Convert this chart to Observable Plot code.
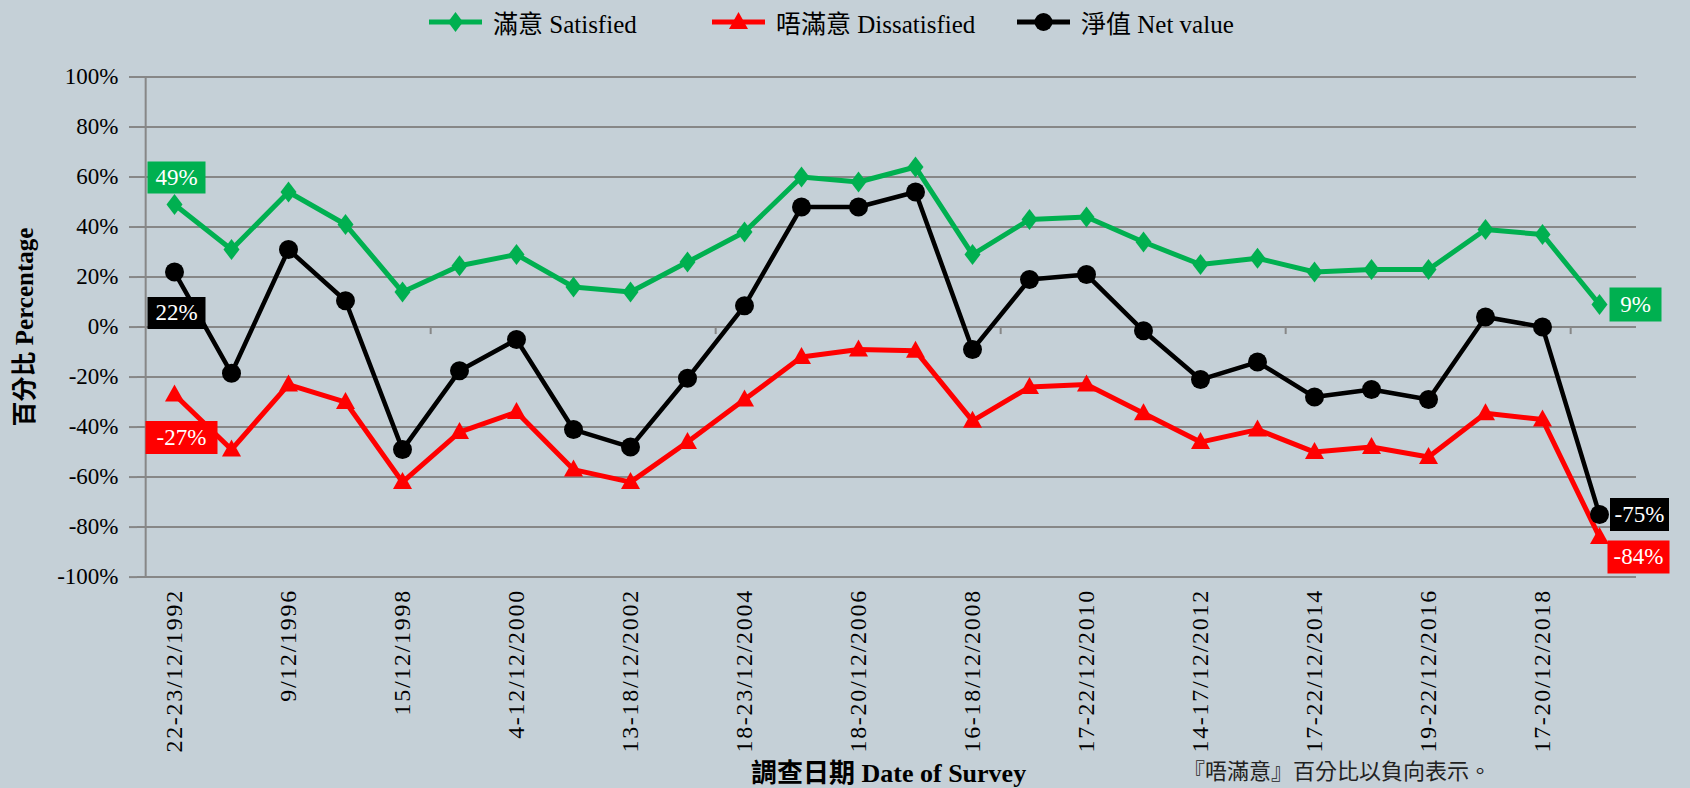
<!DOCTYPE html>
<html><head><meta charset="utf-8">
<script src="https://cdn.jsdelivr.net/npm/d3@7"></script>
<script src="https://cdn.jsdelivr.net/npm/@observablehq/plot@0.6"></script>
<style>
html,body{margin:0;padding:0;background:#C5D0D7;width:1690px;height:788px;overflow:hidden;font-family:"Liberation Serif","Noto Sans CJK TC",serif;color:#000;}
#legend{position:relative;height:43px;}
.item{position:absolute;top:0;height:43px;display:flex;align-items:center;font-size:25px;white-space:nowrap;}
.item svg{margin-right:11px;}
#chart{height:712px;}
#bottom{position:relative;height:33px;}
#xtitle{position:absolute;left:751px;top:6px;font-weight:bold;font-size:26px;line-height:26px;white-space:nowrap;}
#note{position:absolute;left:1183px;top:6px;font-size:22px;line-height:22px;white-space:nowrap;color:#222;}
g[aria-label="x-axis tick label"] text{letter-spacing:1.7px;}
</style></head><body>
<div id="legend"></div>
<div id="chart"></div>
<div id="bottom"><div id="xtitle">調查日期 Date of Survey</div><div id="note">『唔滿意』百分比以負向表示。</div></div>
<script>
const dates = ["22-23/12/1992","12/1994","9/12/1996","12/1997","15/12/1998","12/1999","4-12/12/2000","12/2001","13-18/12/2002","12/2003","18-23/12/2004","12/2005","18-20/12/2006","12/2007","16-18/12/2008","12/2009","17-22/12/2010","12/2011","14-17/12/2012","12/2013","17-22/12/2014","12/2015","19-22/12/2016","12/2017","17-20/12/2018","12/2019"];
const tickLabels = ["22-23/12/1992","9/12/1996","15/12/1998","4-12/12/2000","13-18/12/2002","18-23/12/2004","18-20/12/2006","16-18/12/2008","17-22/12/2010","14-17/12/2012","17-22/12/2014","19-22/12/2016","17-20/12/2018"];
const satisfied = [49,31,54,41,14,24.5,29,16,14,26,38,60,58,64,29,43,44,34,25,27.5,22,23,23,39,37,9];
const dissatisfied = [-27,-49,-23,-30,-62,-42,-34,-57,-62,-46,-29,-12,-9,-9.5,-37.5,-24,-23,-34.5,-46,-41,-50,-48,-52,-34.5,-37,-84];
const netValue = [22,-18.5,31,10.5,-49,-17.5,-5,-41,-48,-20.5,8.5,48,48,54,-9,19,21,-1.5,-21,-14,-28,-25,-29,4,0,-75];
const yTicks = [-100,-80,-60,-40,-20,0,20,40,60,80,100];
const seriesNames = ["滿意 Satisfied","唔滿意 Dissatisfied","淨值 Net value"];

const GREEN="#00B050", RED="#FF0000", BLACK="#000000", GRID="#878787";
const W=1690, H=712, ML=137, MR=54, MT=33.5, MB=178.4;
const step=(W-ML-MR)/dates.length;

const diamondSym={draw(c){c.moveTo(0,-10.5);c.lineTo(8,0);c.lineTo(0,10.5);c.lineTo(-8,0);c.closePath();}};
const triSym={draw(c){c.moveTo(0,-10);c.lineTo(9.5,7);c.lineTo(-9.5,7);c.closePath();}};
const boxSym=(w,h)=>({draw(c){c.rect(-w/2,-h/2,w,h);}});

const rows=dates.map((d,i)=>({date:d,sat:satisfied[i],dis:dissatisfied[i],net:netValue[i]}));

// legend
const legend=document.getElementById("legend");
const legSyms=[
  '<path d="M26.5,0 L34,10 L26.5,20 L19,10Z" fill="'+GREEN+'"/>',
  '<path d="M26.5,0 L36,17 L17,17Z" fill="'+RED+'"/>',
  '<circle cx="26.5" cy="10" r="9" fill="'+BLACK+'"/>'
];
const legColors=[GREEN,RED,BLACK];
const legLeft=[429,712,1017];
seriesNames.forEach((n,k)=>{
  const div=document.createElement("div");div.className="item";div.style.left=legLeft[k]+"px";
  div.innerHTML='<svg width="53" height="20"><line x1="0" x2="53" y1="10" y2="10" stroke="'+legColors[k]+'" stroke-width="5"/>'+legSyms[k]+'</svg><span>'+n+'</span>';
  legend.appendChild(div);
});

function label(arr,idx,color,dx,dy,w,h){
  const d=[{date:dates[idx],v:arr[idx]}];
  return [
    Plot.dot(d,{x:"date",y:"v",symbol:boxSym(w,h),fill:color,stroke:"none",dx,dy}),
    Plot.text(d,{x:"date",y:"v",text:e=>Math.round(e.v)+"%",fill:"white",fontSize:23,dx,dy})
  ];
}
const last=dates.length-1;

const chart=Plot.plot({
  width:W,height:H,marginLeft:ML,marginRight:MR,marginTop:MT,marginBottom:MB,
  x:{type:"point",domain:dates,padding:0.5},
  y:{domain:[-100,100]},
  style:{background:"transparent",fontFamily:'"Liberation Serif","Noto Sans CJK TC",serif',fontSize:"22px",color:"black"},
  marks:[
    Plot.gridY({ticks:yTicks,stroke:GRID,strokeOpacity:1,strokeWidth:2}),
    Plot.axisY({ticks:yTicks,tickSize:8,tickPadding:11,stroke:GRID,strokeWidth:2,tickFormat:d=>d+"%",fontSize:23,label:null}),
    Plot.ruleX([dates[0]],{dx:-step/2,stroke:GRID,strokeWidth:2}),
    Plot.ruleX(dates.filter((d,i)=>i>0&&i%5===0),{dx:-step/2,y1:0,y2:-3,stroke:GRID,strokeWidth:2}),
    Plot.axisX({ticks:tickLabels,tickSize:0,tickRotate:-90,tickPadding:12,fontSize:24,label:null}),
    Plot.line(rows,{x:"date",y:"sat",stroke:GREEN,strokeWidth:5}),
    Plot.dot(rows,{x:"date",y:"sat",symbol:diamondSym,fill:GREEN,stroke:"none"}),
    Plot.line(rows,{x:"date",y:"dis",stroke:RED,strokeWidth:5}),
    Plot.dot(rows,{x:"date",y:"dis",symbol:triSym,fill:RED,stroke:"none"}),
    Plot.line(rows,{x:"date",y:"net",stroke:BLACK,strokeWidth:4.5}),
    Plot.dot(rows,{x:"date",y:"net",r:9.5,symbol:"circle",fill:BLACK,stroke:"none"}),
    Plot.text(["百分比 Percentage"],{frameAnchor:"left",textAnchor:"middle",dx:-113,rotate:-90,fontWeight:"bold",fontSize:25,fill:"black"}),
    ...label(satisfied,0,GREEN,2,-27,58,32),
    ...label(netValue,0,BLACK,2,41,58,32),
    ...label(dissatisfied,0,RED,7,43,72,33),
    ...label(satisfied,last,GREEN,36,0,52,34),
    ...label(netValue,last,BLACK,40,0,59,33),
    ...label(dissatisfied,last,RED,39,20,62,33)
  ]
});
document.getElementById("chart").appendChild(chart);
</script>
</body></html>
